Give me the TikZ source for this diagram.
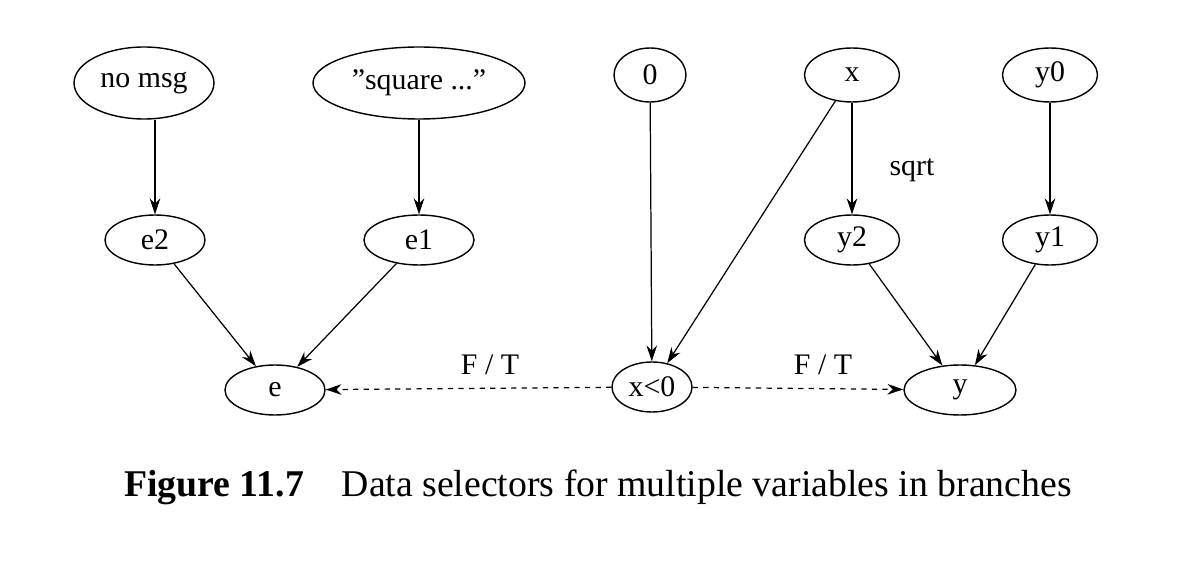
\documentclass[tikz,border=0pt]{standalone}
\usepackage{fontspec}
\setmainfont{Liberation Serif}
\usetikzlibrary{shapes.geometric,arrows.meta}
\begin{document}
\begin{tikzpicture}[x=0.02cm,y=-0.02cm,
  v/.style={draw,ellipse,inner sep=0pt,line width=0.8pt,font=\fontsize{17}{19}\selectfont},
  a/.style={-{Stealth[length=9pt,width=6pt]},line width=0.7pt},
  d/.style={a,dashed},
  lab/.style={font=\fontsize{17}{19}\selectfont}]
\useasboundingbox (0,0) rectangle (1184,564);
\node[v,minimum width=2.8cm,minimum height=1.44cm] (nm) at (144,83) {no msg};
\node[v,minimum width=4.24cm,minimum height=1.44cm] (sq) at (419,83) {\char34 square ...\char34};
\node[v,minimum width=1.44cm,minimum height=1.08cm] (z) at (650,75) {0};
\node[v,minimum width=1.9cm,minimum height=1.08cm] (x) at (852,75) {x};
\node[v,minimum width=1.9cm,minimum height=1.08cm] (y0) at (1050,75) {y0};
\node[v,minimum width=2.0cm,minimum height=1.0cm] (e2) at (155,240) {e2};
\node[v,minimum width=2.2cm,minimum height=1.0cm] (e1) at (419,240) {e1};
\node[v,minimum width=1.9cm,minimum height=1.0cm] (y2) at (852,240) {y2};
\node[v,minimum width=1.9cm,minimum height=1.0cm] (y1) at (1050,240) {y1};
\node[v,minimum width=2.0cm,minimum height=1.0cm] (e) at (275,390) {e};
\node[v,minimum width=1.6cm,minimum height=1.0cm] (xl) at (652,387) {x<0};
\node[v,minimum width=2.24cm,minimum height=1.0cm] (y) at (960,390) {y};
\draw[a] (e2.north |- nm.south) -- (e2);
\draw[a] (sq) -- (e1);
\draw[a] (z) -- (xl);
\draw[a] (x) -- (xl);
\draw[a] (x) -- (y2);
\draw[a] (y0) -- (y1);
\draw[a] (e2) -- (e);
\draw[a] (e1) -- (e);
\draw[a] (y2) -- (y);
\draw[a] (y1) -- (y);
\draw[d] (xl) -- (e);
\draw[d] (xl) -- (y);
\node[lab] (t1) at (490,365) {F / T};
\node[lab] (t2) at (823,365) {F / T};
\node[lab] (s) at (912,170) {sqrt};
\node[font=\fontsize{21.5}{24}\selectfont] (cap) at (598,487) {\textbf{Figure 11.7}\quad Data selectors for multiple variables in branches};
\end{tikzpicture}
\end{document}
